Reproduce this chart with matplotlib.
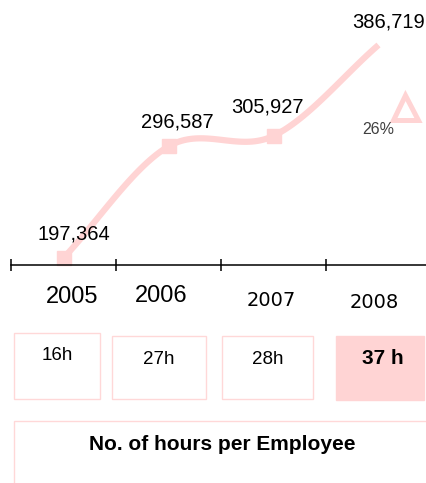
import numpy as np
import matplotlib
matplotlib.use("Agg")
import matplotlib.pyplot as plt
from matplotlib.patches import Rectangle

# Data
years = ["2005", "2006", "2007", "2008"]
revenue = [197364, 296587, 305927, 386719]
value_labels = ["197,364", "296,587", "305,927", "386,719"]
hours = ["16h", "27h", "28h", "37 h"]
growth_label = "26%"
caption = "No. of hours per Employee"

PINK = "#FFD4D4"
EDGE = "#FFD8D8"

W, H = 426, 483
fig = plt.figure(figsize=(W / 100, H / 100), dpi=100)

# Overlay in pixel coordinates for the boxes and captions
ov = fig.add_axes([0, 0, 1, 1])
ov.set_xlim(0, W)
ov.set_ylim(H, 0)
ov.axis("off")

# Line chart axes: categories on x, revenue on y
axis_y_px = 265
ax = fig.add_axes([11 / W, (H - axis_y_px) / H, 420 / W, axis_y_px / H])
ax.patch.set_alpha(0)
x = np.arange(len(years))
ax.set_xlim(-0.5, 3.5)
ax.set_ylim(191142, 426697)
for s in ("top", "right", "left"):
    ax.spines[s].set_visible(False)
ax.spines["bottom"].set_linewidth(1.1)
ax.set_yticks([])
ax.set_xticks(x - 0.5)
ax.set_xticklabels([])
ax.tick_params(axis="x", direction="inout", length=8, width=1.1)

# Smooth curve (Catmull-Rom) through the yearly values
pts = np.column_stack([x, revenue]).astype(float)
ext = np.vstack([pts[0] - (pts[1] - pts[0]), pts, pts[-1] + (pts[-1] - pts[-2])])
curve = []
for i in range(1, len(ext) - 2):
    p0, p1, p2, p3 = ext[i - 1], ext[i], ext[i + 1], ext[i + 2]
    t = np.linspace(0, 1, 40)[:, None]
    seg = 0.5 * ((2 * p1) + (-p0 + p2) * t + (2 * p0 - 5 * p1 + 4 * p2 - p3) * t ** 2
                 + (-p0 + 3 * p1 - 3 * p2 + p3) * t ** 3)
    curve.append(seg)
curve = np.vstack(curve)
ax.plot(curve[:, 0], curve[:, 1], color=PINK, lw=4.5, solid_capstyle="butt", clip_on=False)
ax.plot(x[:3], revenue[:3], linestyle="none", marker="s", markersize=10,
        color=PINK, clip_on=False)

# Value labels above each point
offsets = [(10, 24), (9, 24), (-6, 29), (10, 23)]
for xi, v, lab, (dx, dy) in zip(x, revenue, value_labels, offsets):
    ax.annotate(lab, (xi, v), xytext=(dx, dy), textcoords="offset pixels",
                ha="center", va="center", fontsize=14.5,
                family="Liberation Sans", color="black", annotation_clip=False)

# Growth indicator
ov.plot([405], [107], marker="^", markersize=18, markerfacecolor="none",
        markeredgecolor=PINK, markeredgewidth=3.6)
ov.text(378, 130, growth_label, ha="center", va="center", fontsize=11.5,
        family="Liberation Sans", color="#404040")

# Year labels
year_pos = [(72, 297, "Liberation Sans", 17), (161, 296, "Liberation Sans", 17),
            (271, 301, "DejaVu Sans", 14), (374, 302, "DejaVu Sans", 14)]
for lab, (px, py, fam, fs) in zip(years, year_pos):
    ov.text(px, py, lab, ha="center", va="center", fontsize=fs, family=fam)

# Hours boxes
boxes = [(14, 333, 86, 66), (112, 336, 94, 63), (222, 336, 91, 63), (336, 336, 88, 64)]
text_x = [57.5, 159, 267.5, 383]
text_y = [356, 359, 359, 359]
for i, ((bx, by, bw, bh), lab, tx, ty) in enumerate(zip(boxes, hours, text_x, text_y)):
    last = i == len(hours) - 1
    ov.add_patch(Rectangle((bx, by), bw, bh, facecolor=PINK if last else "white",
                           edgecolor=PINK if last else EDGE, lw=1.0, clip_on=False))
    ov.text(tx, ty, lab, ha="center", va="center",
            fontsize=15 if last else 13.5, family="Liberation Sans",
            fontweight="bold" if last else "normal")

# Caption box
ov.add_patch(Rectangle((14, 421), 430, 80, facecolor="white", edgecolor=EDGE, lw=1.0))
ov.text(222, 444, caption, ha="center", va="center", fontsize=15,
        family="Liberation Sans", fontweight="bold")

fig.savefig("out.png", dpi=100)
